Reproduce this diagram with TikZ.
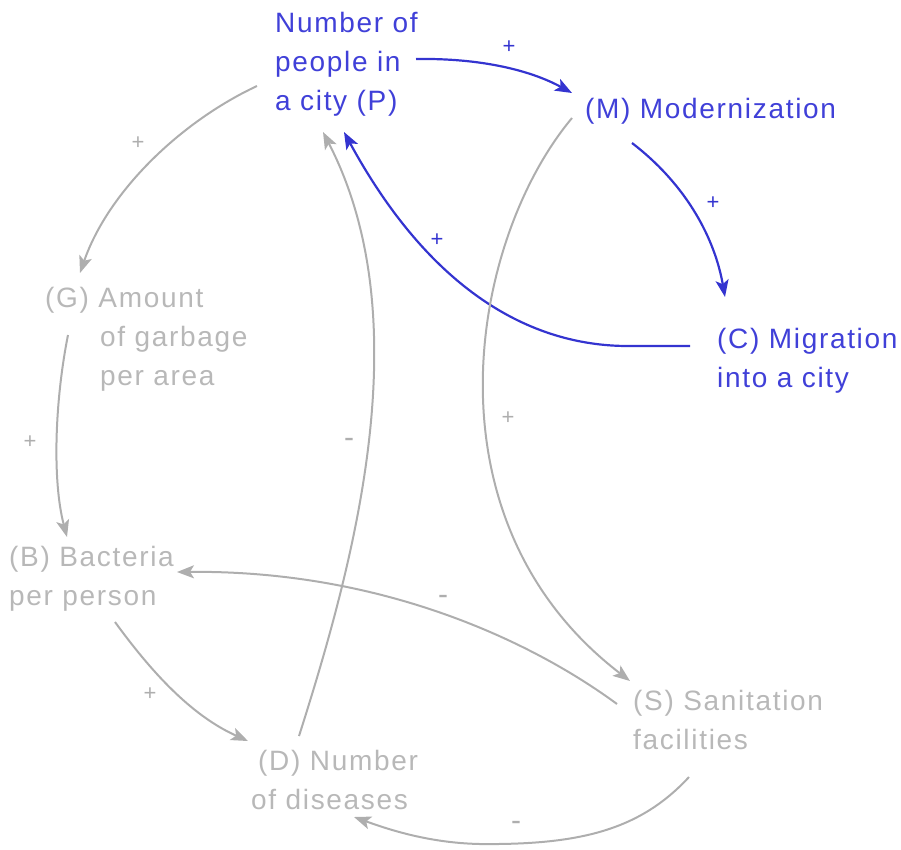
\documentclass[tikz,border=0pt]{standalone}
\usepackage{fontspec}
\setmainfont{Liberation Sans}[LetterSpace=6]
\usetikzlibrary{arrows.meta}
\definecolor{cblue}{RGB}{52,52,208}
\definecolor{tblue}{RGB}{64,64,216}
\definecolor{cgray}{RGB}{174,174,174}
\definecolor{tgray}{RGB}{184,184,184}
\newcommand\mylines[1]{\begin{tabular}[t]{@{}l@{}}#1\end{tabular}}
\begin{document}
\begin{tikzpicture}[x=1pt,y=-1pt,
  var/.style={anchor=base west,inner sep=0pt,font=\fontsize{28}{39}\selectfont},
  bvar/.style={var,text=tblue},
  gvar/.style={var,text=tgray},
  link/.style={line width=2.2pt,-{Stealth[length=17pt,width=13pt,inset=4pt]}},
  blink/.style={link,draw=cblue},
  glink/.style={link,draw=cgray,line width=2pt},
  sgn/.style={inner sep=0pt,font=\fontsize{22}{22}\selectfont},
  bsgn/.style={sgn,text=cblue},
  gsgn/.style={sgn,text=cgray},
  msgn/.style={gsgn,font=\fontsize{30}{30}\selectfont}]
\useasboundingbox (0,0) rectangle (901,849);

% variables
\node[bvar] (P) at (275,32) {\mylines{Number of\\people in\\a city (P)}};
\node[bvar] (M) at (585,118) {(M) Modernization};
\node[bvar] (C) at (717,348) {\mylines{(C) Migration\\into a city}};
\node[gvar] (G) at (45,307) {\mylines{(G) Amount\\\hspace*{55pt}of garbage\\\hspace*{55pt}per area}};
\node[gvar] (B) at (9,566) {\mylines{(B) Bacteria\\per person}};
\node[gvar] (D) at (258,770) {\mylines{(D) Number\\\hspace*{-7pt}of diseases}};
\node[gvar] (S) at (633,710) {\mylines{(S) Sanitation\\facilities}};

% connector ends
\coordinate (pm0) at (416,59);
\coordinate (pm1) at (572,93);
\coordinate (mc0) at (632,143);
\coordinate (mc1) at (725,297);
\coordinate (cp0) at (690,346);
\coordinate (cp1) at (344,132);
\coordinate (pg0) at (257,86);
\coordinate (pg1) at (80,273);
\coordinate (gb0) at (68,335);
\coordinate (gb1) at (67,537);
\coordinate (bd0) at (115,622);
\coordinate (bd1) at (248,741);
\coordinate (dp0) at (299,736);
\coordinate (dp1) at (323,132);
\coordinate (ms0) at (572,118);
\coordinate (ms1) at (630,681);
\coordinate (sb0) at (617,704);
\coordinate (sb1) at (177,572);
\coordinate (sd0) at (689,777);
\coordinate (sd1) at (354,817);

% blue loop
\draw[blink] (pm0) .. controls (480,58) and (530,70) .. (pm1);
\draw[blink] (mc0) .. controls (688,186) and (715,240) .. (mc1);
\draw[blink] (cp0) -- (628,346) .. controls (530,346) and (430,290) .. (cp1);

% gray links
\draw[glink] (pg0) .. controls (180,122) and (108,192) .. (pg1);
\draw[glink] (gb0) .. controls (55,400) and (52,480) .. (gb1);
\draw[glink] (bd0) .. controls (150,670) and (190,715) .. (bd1);
\draw[glink] (dp0) .. controls (355,560) and (420,320) .. (dp1);
\draw[glink] (ms0) .. controls (470,240) and (420,520) .. (ms1);
\draw[glink] (sb0) .. controls (530,640) and (380,570) .. (sb1);
\draw[glink] (sd0) .. controls (640,830) and (580,845) .. (480,844)
                    .. controls (430,843) and (390,830) .. (sd1);

% polarity labels
\node[bsgn] (s1) at (509,47) {+};
\node[bsgn] (s2) at (713,203) {+};
\node[bsgn] (s3) at (437,240) {+};
\node[gsgn] (s4) at (138,143) {+};
\node[gsgn] (s5) at (30,442) {+};
\node[gsgn] (s6) at (150,694) {+};
\node[msgn] (s7) at (349,443) {-};
\node[gsgn] (s8) at (508,418) {+};
\node[msgn] (s9) at (443,600) {-};
\node[msgn] (s10) at (516,826) {-};
\end{tikzpicture}
\end{document}
